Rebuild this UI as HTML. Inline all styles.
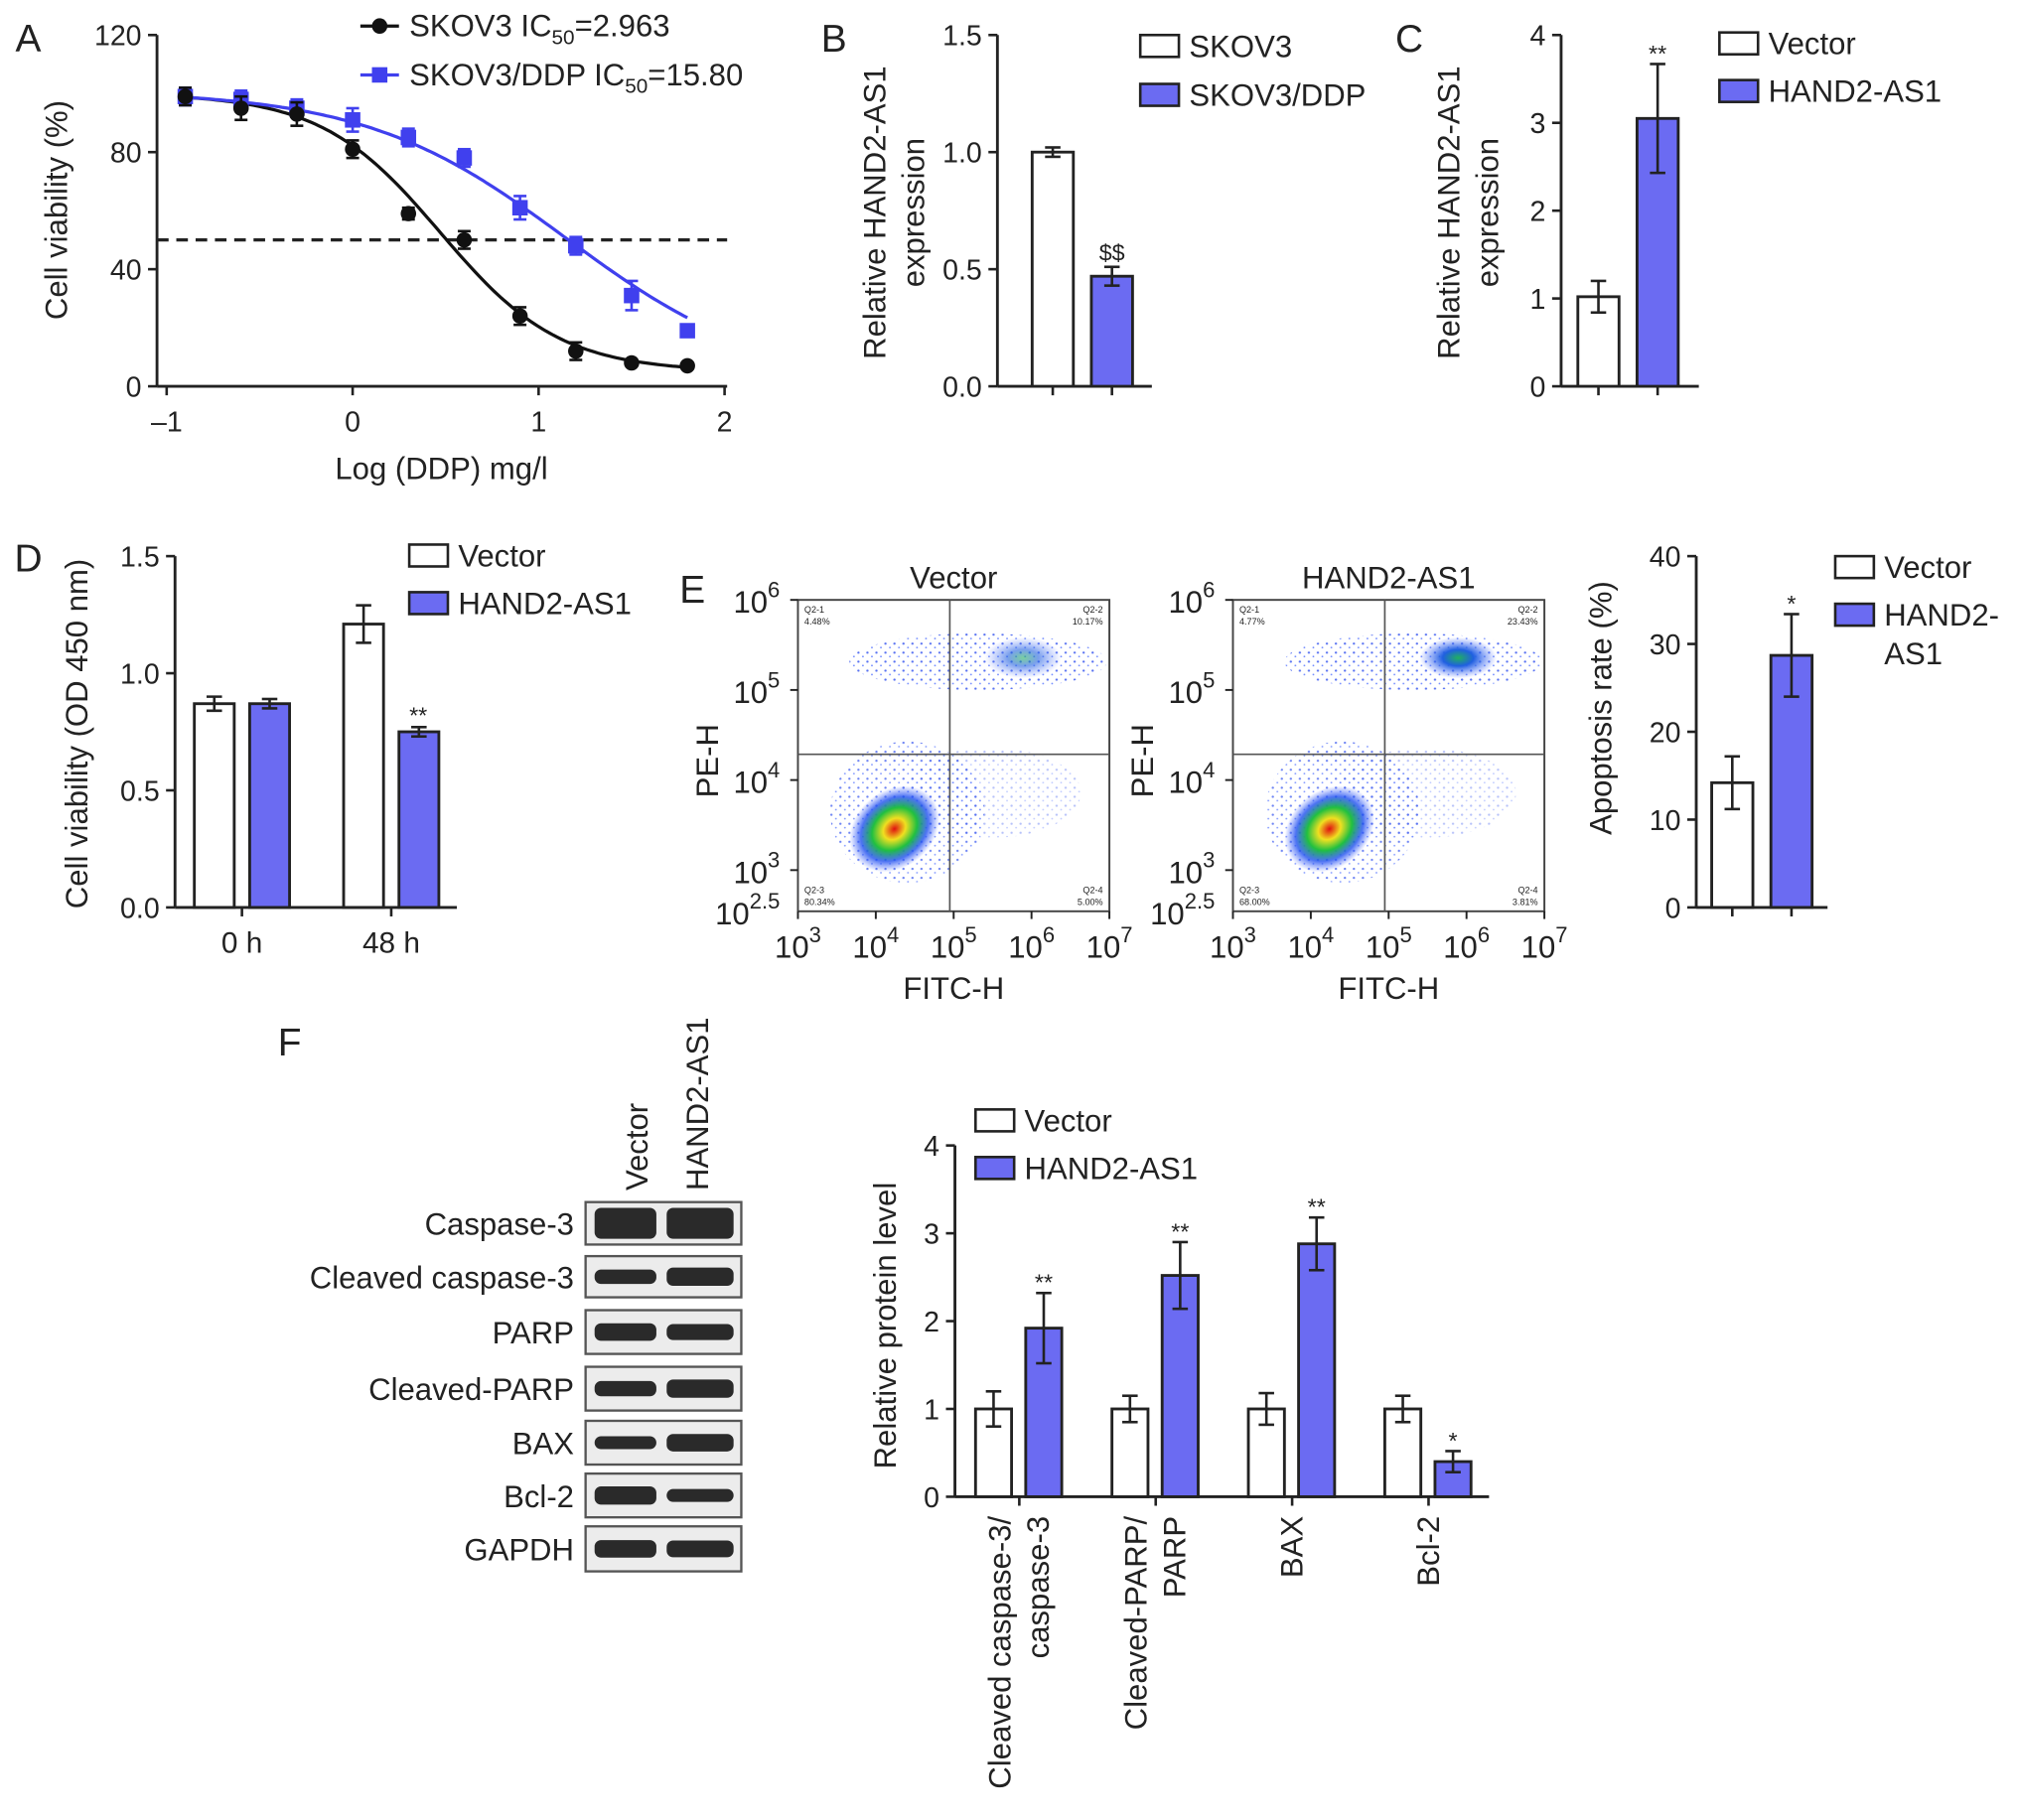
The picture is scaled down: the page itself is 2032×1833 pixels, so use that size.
<!DOCTYPE html>
<html><head><meta charset="utf-8"><style>
html,body{margin:0;padding:0;background:#fff}
svg{display:block}
text{font-family:"Liberation Sans",Arial,sans-serif;fill:#222}
</style></head><body>
<svg id="fig" width="2032" height="1833" viewBox="0 0 1568 1414" xmlns="http://www.w3.org/2000/svg">
<defs>
<radialGradient id="hot" cx="50%" cy="50%" r="50%">
<stop offset="0" stop-color="#e01010"/><stop offset="0.25" stop-color="#f0e020"/><stop offset="0.5" stop-color="#20c040"/><stop offset="0.75" stop-color="#2050f0" stop-opacity="0.8"/><stop offset="1" stop-color="#4060ff" stop-opacity="0"/>
</radialGradient>
<radialGradient id="cool" cx="50%" cy="50%" r="50%">
<stop offset="0" stop-color="#20b060"/><stop offset="0.4" stop-color="#2060e0"/><stop offset="1" stop-color="#5070ff" stop-opacity="0"/>
</radialGradient>
<pattern id="dots" width="7" height="7" patternUnits="userSpaceOnUse"><circle cx="2" cy="3" r="0.9" fill="#3050ee"/><circle cx="5.5" cy="6" r="0.7" fill="#5070ff"/></pattern>
</defs>
<g id="root"></g>
</svg>
<script>
// ---------- data ----------
const aX = [-0.9,-0.6,-0.3,0,0.3,0.6,0.9,1.2,1.5,1.8];
const aSkov = [99,95,93,81,59,50,24,12,8,7];
const aSkovErr = [3,4,4,3,2,3,3,3,1,1];
const aDdp = [99,98,95,91,85,78,61,48,31,19];
const aDdpErr = [3,3,3,4,3,3,4,3,5,2];
const aXTicks = [-1,0,1,2];
const aYTicks = [0,40,80,120];
const bVals = [1.0,0.47];
const bErr = [0.02,0.04];
const bTicks = [0.0,0.5,1.0,1.5];
const cVals = [1.02,3.05];
const cErr = [0.18,0.62];
const cTicks = [0,1,2,3,4];
const dCats = ["0 h","48 h"];
const dVector = [0.87,1.21];
const dVectorErr = [0.03,0.08];
const dHand = [0.87,0.75];
const dHandErr = [0.02,0.02];
const dTicks = [0.0,0.5,1.0,1.5];
const eVals = [14.2,28.7];
const eErr = [3.0,4.7];
const eTicks = [0,10,20,30,40];
const fCats = [["Cleaved caspase-3/","caspase-3"],["Cleaved-PARP/","PARP"],["BAX"],["Bcl-2"]];
const fVector = [1.0,1.0,1.0,1.0];
const fVectorErr = [0.2,0.15,0.18,0.15];
const fHand = [1.92,2.52,2.88,0.4];
const fHandErr = [0.4,0.38,0.3,0.12];
const fStars = ["**","**","**","*"];
const fTicks = [0,1,2,3,4];
const blotLabels = ["Caspase-3","Cleaved caspase-3","PARP","Cleaved-PARP","BAX","Bcl-2","GAPDH"];
const blotVec = [1.0,0.6,0.8,0.65,0.5,0.85,0.8];
const blotHand = [1.0,0.85,0.7,0.85,0.8,0.5,0.75];

const NS="http://www.w3.org/2000/svg";
const root=document.getElementById('root');
function el(tag,attrs,parent){const e=document.createElementNS(NS,tag);for(const k in attrs)e.setAttribute(k,attrs[k]);(parent||root).appendChild(e);return e;}
function txt(x,y,s,size,anchor,parent,extra){const t=el('text',Object.assign({x:x,y:y,'font-size':size,'text-anchor':anchor||'middle'},extra||{}),parent);t.textContent=s;return t;}
const BLUE="#6b6bf2", LINEBLUE="#4040ee";

function yAxis(g,x,y0,y1,ticks,min,max,fmt){
  el('line',{x1:x,y1:y0,x2:x,y2:y1,stroke:'#222','stroke-width':2.2},g);
  ticks.forEach(t=>{const y=y0-(t-min)/(max-min)*(y0-y1);
    el('line',{x1:x-7,y1:y,x2:x,y2:y,stroke:'#222','stroke-width':2},g);
    txt(x-12,y+8,fmt(t),22,'end',g);});
}
function bar(g,x,w,y0,scale,v,err,fill,name){
  const r=el('rect',{x:x,y:y0-v*scale,width:w,height:v*scale,fill:fill,stroke:'#222','stroke-width':2.2},g);
  
  
  const cx=x+w/2, yt=y0-(v+err)*scale, yb=y0-(v-err)*scale;
  el('line',{x1:cx,y1:yt,x2:cx,y2:yb,stroke:'#222','stroke-width':2},g);
  el('line',{x1:cx-6,y1:yt,x2:cx+6,y2:yt,stroke:'#222','stroke-width':2},g);
  el('line',{x1:cx-6,y1:yb,x2:cx+6,y2:yb,stroke:'#222','stroke-width':2},g);
  return yt;
}
function legend(g,x,y,label,fill,size){
  el('rect',{x:x,y:y-15,width:30,height:17,fill:fill,stroke:'#222','stroke-width':2},g);
  txt(x+38,y+2,label,size||24,'start',g);
}
function fmt1(t){return t.toFixed(1);}
function fmt0(t){return String(t);}

// ---------- Panel A ----------
(function(){
  const g=el('g',{});
  txt(22,40,"A",30,'middle',g);
  const X=v=>274+(v)*144.5, Y=v=>300-v*(273/120);
  yAxis(g,122,300,27,aYTicks,0,120,fmt0);
  el('line',{x1:122,y1:300,x2:565,y2:300,stroke:'#222','stroke-width':2.2},g);
  aXTicks.forEach(t=>{el('line',{x1:X(t),y1:300,x2:X(t),y2:307,stroke:'#222','stroke-width':2},g);txt(X(t),335,t<0?"–1":String(t),22,'middle',g);});
  txt(0,0,"Cell viability (%)",24,'middle',g,{transform:'translate(52,163) rotate(-90)'});
  txt(343,372,"Log (DDP) mg/l",24,'middle',g);
  el('line',{x1:122,y1:Y(50),x2:565,y2:Y(50),stroke:'#222','stroke-width':2.5,'stroke-dasharray':'9,6'},g);
  function curve(ic,hill,top,bot,color){let d="";for(let v=-0.9;v<=1.801;v+=0.02){const y=bot+(top-bot)/(1+Math.pow(10,(v-ic)*hill));d+=(d?"L":"M")+X(v).toFixed(1)+","+Y(y).toFixed(1);}el('path',{d:d,fill:'none',stroke:color,'stroke-width':2.5},g);}
  curve(Math.log10(2.963),1.35,100,5,'#111');
  curve(1.15,0.8,101,0,LINEBLUE);
  function pts(vals,errs,color,square,name){vals.forEach((v,i)=>{const cx=X(aX[i]),cy=Y(v);
    el('line',{x1:cx,y1:Y(v+errs[i]),x2:cx,y2:Y(v-errs[i]),stroke:color,'stroke-width':2},g);
    el('line',{x1:cx-5,y1:Y(v+errs[i]),x2:cx+5,y2:Y(v+errs[i]),stroke:color,'stroke-width':2},g);
    el('line',{x1:cx-5,y1:Y(v-errs[i]),x2:cx+5,y2:Y(v-errs[i]),stroke:color,'stroke-width':2},g);
    const m=square?el('rect',{x:cx-6,y:cy-6,width:12,height:12,fill:color},g):el('circle',{cx:cx,cy:cy,r:6,fill:color},g);
    
    });}
  pts(aDdp,aDdpErr,LINEBLUE,true,'skov3-ddp-point');
  pts(aSkov,aSkovErr,'#111',false,'skov3-point');
  el('line',{x1:280,y1:20,x2:310,y2:20,stroke:'#111','stroke-width':2.5},g);el('circle',{cx:295,cy:20,r:6,fill:'#111'},g);
  const l1=txt(318,28,"",24,'start',g);l1.innerHTML='SKOV3 IC<tspan font-size="16" dy="6">50</tspan><tspan dy="-6">=2.963</tspan>';
  el('line',{x1:280,y1:58,x2:310,y2:58,stroke:LINEBLUE,'stroke-width':2.5},g);el('rect',{x:289,y:52,width:12,height:12,fill:LINEBLUE},g);
  const l2=txt(318,66,"",24,'start',g);l2.innerHTML='SKOV3/DDP IC<tspan font-size="16" dy="6">50</tspan><tspan dy="-6">=15.80</tspan>';
})();

// ---------- Panel B ----------
(function(){
  const g=el('g',{});
  txt(648,40,"B",30,'middle',g);
  const y0=300,sc=273/1.5;
  yAxis(g,775,300,27,bTicks,0,1.5,fmt1);
  el('line',{x1:775,y1:300,x2:895,y2:300,stroke:'#222','stroke-width':2.2},g);
  el('line',{x1:818,y1:300,x2:818,y2:307,stroke:'#222','stroke-width':2},g);
  el('line',{x1:864,y1:300,x2:864,y2:307,stroke:'#222','stroke-width':2},g);
  bar(g,802,32,y0,sc,bVals[0],bErr[0],'#fff','bar-skov3');
  const t=bar(g,848,32,y0,sc,bVals[1],bErr[1],BLUE,'bar-skov3-ddp');
  txt(864,t-5,"$$",18,'middle',g);
  txt(0,0,"Relative HAND2-AS1",24,'middle',g,{transform:'translate(688,165) rotate(-90)'});
  txt(0,0,"expression",24,'middle',g,{transform:'translate(718,165) rotate(-90)'});
  legend(g,886,42,"SKOV3",'#fff');legend(g,886,80,"SKOV3/DDP",BLUE);
})();

// ---------- Panel C ----------
(function(){
  const g=el('g',{});
  txt(1095,40,"C",30,'middle',g);
  const y0=300,sc=273/4;
  yAxis(g,1213,300,27,cTicks,0,4,fmt0);
  el('line',{x1:1213,y1:300,x2:1320,y2:300,stroke:'#222','stroke-width':2.2},g);
  el('line',{x1:1242,y1:300,x2:1242,y2:307,stroke:'#222','stroke-width':2},g);
  el('line',{x1:1288,y1:300,x2:1288,y2:307,stroke:'#222','stroke-width':2},g);
  bar(g,1226,32,y0,sc,cVals[0],cErr[0],'#fff','bar-vector');
  const t=bar(g,1272,32,y0,sc,cVals[1],cErr[1],BLUE,'bar-hand2-as1');
  txt(1288,t-2,"**",18,'middle',g);
  txt(0,0,"Relative HAND2-AS1",24,'middle',g,{transform:'translate(1134,165) rotate(-90)'});
  txt(0,0,"expression",24,'middle',g,{transform:'translate(1164,165) rotate(-90)'});
  legend(g,1336,40,"Vector",'#fff');legend(g,1336,77,"HAND2-AS1",BLUE);
})();

// ---------- Panel D ----------
(function(){
  const g=el('g',{});
  txt(22,444,"D",30,'middle',g);
  const y0=705,sc=273/1.5;
  yAxis(g,136,705,432,dTicks,0,1.5,fmt1);
  el('line',{x1:136,y1:705,x2:355,y2:705,stroke:'#222','stroke-width':2.2},g);
  const centers=[188,304];
  dCats.forEach((c,i)=>{const cx=centers[i];
    el('line',{x1:cx,y1:705,x2:cx,y2:712,stroke:'#222','stroke-width':2},g);
    txt(cx,740,c,23,'middle',g);
    bar(g,cx-37,31,y0,sc,dVector[i],dVectorErr[i],'#fff','bar-vector-'+i);
    const t=bar(g,cx+6,31,y0,sc,dHand[i],dHandErr[i],BLUE,'bar-hand2-as1-'+i);
    if(i===1)txt(cx+21,t-3,"**",18,'middle',g);});
  txt(0,0,"Cell viability (OD 450 nm)",24,'middle',g,{transform:'translate(68,570) rotate(-90)'});
  legend(g,318,438,"Vector",'#fff');legend(g,318,475,"HAND2-AS1",BLUE);
})();

// ---------- Panel E flow ----------
function flow(x0,title,q,hiBoost,name){
  const g=el('g',{});
  const w=242,h=242,y0=466;
  txt(x0+w/2,457,title,24,'middle',g);
  el('rect',{x:x0,y:y0,width:w,height:h,fill:'#fff',stroke:'#444','stroke-width':1.5},g);
  const qx=x0+118,qy=586;
  el('ellipse',{cx:x0+85,cy:y0+165,rx:60,ry:55,fill:'url(#dots)',opacity:0.7},g);
  el('ellipse',{cx:x0+140,cy:y0+48,rx:100,ry:22,fill:'url(#dots)',opacity:0.8},g);
  el('ellipse',{cx:x0+150,cy:y0+150,rx:70,ry:35,fill:'url(#dots)',opacity:0.35},g);
  el('ellipse',{cx:x0+75,cy:y0+178,rx:38,ry:30,fill:'url(#hot)',transform:`rotate(-40 ${x0+75} ${y0+178})`},g);
  el('ellipse',{cx:x0+175,cy:y0+45,rx:30,ry:16,fill:'url(#cool)',opacity:hiBoost},g);
  el('line',{x1:qx,y1:y0,x2:qx,y2:y0+h,stroke:'#555','stroke-width':1.3},g);
  el('line',{x1:x0,y1:qy,x2:x0+w,y2:qy,stroke:'#555','stroke-width':1.3},g);
  txt(x0+5,y0+10,"Q2-1",7,'start',g);txt(x0+5,y0+19,q[0],7,'start',g);
  txt(x0+w-5,y0+10,"Q2-2",7,'end',g);txt(x0+w-5,y0+19,q[1],7,'end',g);
  txt(x0+5,y0+h-14,"Q2-3",7,'start',g);txt(x0+5,y0+h-5,q[2],7,'start',g);
  txt(x0+w-5,y0+h-14,"Q2-4",7,'end',g);txt(x0+w-5,y0+h-5,q[3],7,'end',g);
  [[6,y0],[5,y0+70],[4,y0+140],[3,y0+210]].forEach(([p,y])=>{
    el('line',{x1:x0-6,y1:y,x2:x0,y2:y,stroke:'#222','stroke-width':1.5},g);
    const t=txt(x0-14,y+10,"",24,'end',g);t.innerHTML='10<tspan font-size="17" dy="-12">'+p+'</tspan>';});
  const t2=txt(x0-14,y0+h+10,"",24,'end',g);t2.innerHTML='10<tspan font-size="17" dy="-12">2.5</tspan>';
  [3,4,5,6,7].forEach((p,i)=>{const x=x0+i*(w/4);
    el('line',{x1:x,y1:y0+h,x2:x,y2:y0+h+6,stroke:'#222','stroke-width':1.5},g);
    const t=txt(x,y0+h+36,"",24,'middle',g);t.innerHTML='10<tspan font-size="17" dy="-12">'+p+'</tspan>';});
  txt(x0+w/2,y0+h+68,"FITC-H",24,'middle',g);
  txt(0,0,"PE-H",24,'middle',g,{transform:`translate(${x0-62},${y0+125}) rotate(-90)`});
}
txt(538,468,"E",30,'middle');
flow(620,"Vector",["4.48%","10.17%","80.34%","5.00%"],0.6,'flow-vector');
flow(958,"HAND2-AS1",["4.77%","23.43%","68.00%","3.81%"],1,'flow-hand2-as1');

// ---------- Panel E bars ----------
(function(){
  const g=el('g',{});
  const y0=705,sc=273/40;
  yAxis(g,1318,705,432,eTicks,0,40,fmt0);
  el('line',{x1:1318,y1:705,x2:1420,y2:705,stroke:'#222','stroke-width':2.2},g);
  el('line',{x1:1346,y1:705,x2:1346,y2:712,stroke:'#222','stroke-width':2},g);
  el('line',{x1:1392,y1:705,x2:1392,y2:712,stroke:'#222','stroke-width':2},g);
  bar(g,1330,32,y0,sc,eVals[0],eErr[0],'#fff','bar-apoptosis-vector');
  const t=bar(g,1376,32,y0,sc,eVals[1],eErr[1],BLUE,'bar-apoptosis-hand2');
  txt(1392,t-2,"*",18,'middle',g);
  txt(0,0,"Apoptosis rate (%)",24,'middle',g,{transform:'translate(1252,550) rotate(-90)'});
  legend(g,1426,447,"Vector",'#fff');legend(g,1426,484,"HAND2-",BLUE);
  txt(1464,516,"AS1",24,'start',g);
})();

// ---------- Panel F blot ----------
(function(){
  const g=el('g',{});
  txt(225,820,"F",30,'middle',g);
  txt(0,0,"Vector",24,'start',g,{transform:'translate(503,925) rotate(-90)'});
  txt(0,0,"HAND2-AS1",24,'start',g,{transform:'translate(550,925) rotate(-90)'});
  const rows=[[934,967],[976,1008],[1018,1052],[1062,1096],[1104,1138],[1145,1179],[1186,1221]];
  rows.forEach((r,i)=>{const [a,b]=r,h=b-a,cy=(a+b)/2;
    el('rect',{x:455,y:a,width:121,height:h,fill:'#ececec',stroke:'#555','stroke-width':1.8},g);
    const bh0=i===0?20:12;
    el('rect',{x:462,y:cy-bh0*blotVec[i]/2-2,width:48,height:bh0*blotVec[i]+4,rx:5,fill:'#151515',opacity:0.9},g);
    el('rect',{x:518,y:cy-bh0*blotHand[i]/2-2,width:52,height:bh0*blotHand[i]+4,rx:5,fill:'#151515',opacity:0.9},g);
    txt(446,cy+9,blotLabels[i],24,'end',g);});
})();

// ---------- Panel F bars ----------
(function(){
  const g=el('g',{});
  const y0=1163,sc=273/4;
  yAxis(g,742,1163,890,fTicks,0,4,fmt0);
  el('line',{x1:742,y1:1163,x2:1157,y2:1163,stroke:'#222','stroke-width':2.2},g);
  txt(0,0,"Relative protein level",24,'middle',g,{transform:'translate(696,1030) rotate(-90)'});
  fCats.forEach((c,i)=>{const gx=758+i*106;
    el('line',{x1:gx+34,y1:1163,x2:gx+34,y2:1170,stroke:'#222','stroke-width':2},g);
    bar(g,gx,28,y0,sc,fVector[i],fVectorErr[i],'#fff','bar-vector-'+i);
    const t=bar(g,gx+39,28,y0,sc,fHand[i],fHandErr[i],BLUE,'bar-hand2-as1-'+i);
    txt(gx+53,t-2,fStars[i],18,'middle',g);
    c.forEach((line,j)=>{const lx=gx+34+(j-(c.length-1)/2)*30+8;
      txt(0,0,line,24,'end',g,{transform:`translate(${lx},1178) rotate(-90)`});});});
  legend(g,758,877,"Vector",'#fff');legend(g,758,914,"HAND2-AS1",BLUE);
})();
</script>
</body></html>
